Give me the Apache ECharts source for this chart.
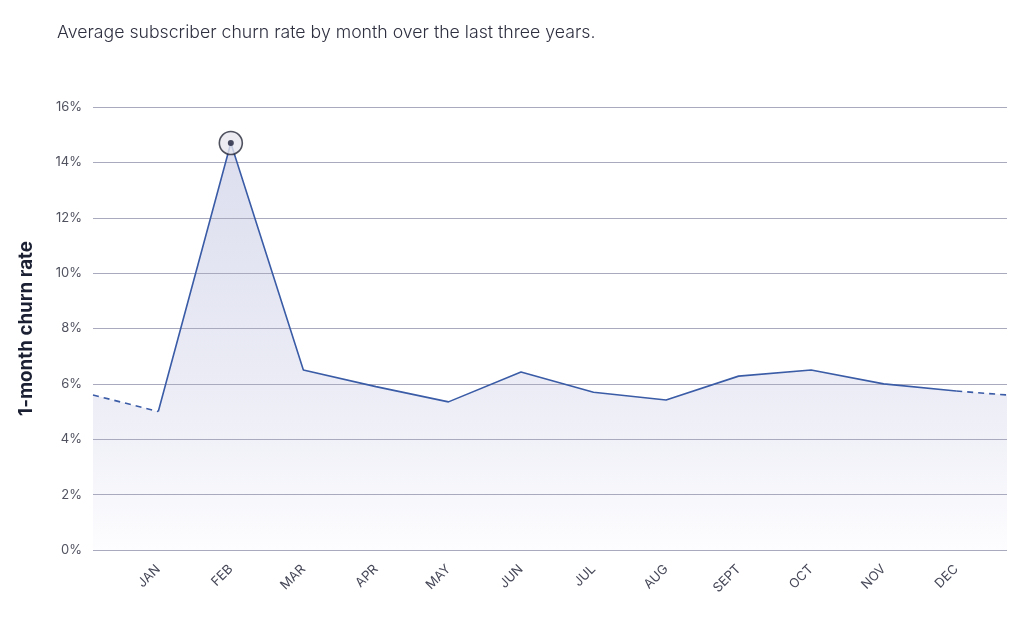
<!DOCTYPE html>
<html>
<head>
<meta charset="utf-8">
<script src="https://cdn.jsdelivr.net/npm/echarts@6/dist/echarts.min.js"></script>
<style>
  html, body { margin: 0; padding: 0; background: #fff; }
  #chart { width: 1024px; height: 620px; }
</style>
</head>
<body>
<div id="chart"></div>
<script>
var months = ['JAN', 'FEB', 'MAR', 'APR', 'MAY', 'JUN', 'JUL', 'AUG', 'SEPT', 'OCT', 'NOV', 'DEC'];
var churn = [5.0, 14.7, 6.5, 5.9, 5.35, 6.43, 5.7, 5.42, 6.28, 6.5, 6.0, 5.74];
// wrap-around values at the chart edges (dashed)
var edgeX = [-0.9, 11.7];
var edgeVal = [5.6, 5.6];
var yTicks = [0, 2, 4, 6, 8, 10, 12, 14, 16];

var font = 'Inter, "Noto Sans", sans-serif';

var solid = months.map(function (m, i) { return [i, churn[i]]; });
var leftDash = [[edgeX[0], edgeVal[0]], [0, churn[0]]];
var rightDash = [[11, churn[11]], [edgeX[1], edgeVal[1]]];
var areaData = [leftDash[0]].concat(solid, [rightDash[1]]);
var peak = 1;

var chart = echarts.init(document.getElementById('chart'));

chart.setOption({
    backgroundColor: '#fff',
    animation: false,
    title: {
        text: 'Average subscriber churn rate by month over the last three years.',
        left: 57,
        top: 24,
        padding: 0,
        textStyle: {
            fontFamily: font,
            fontSize: 17.7,
            fontWeight: 300,
            color: '#2e3040'
        }
    },
    grid: {
        left: 93,
        right: 17,
        top: 107,
        bottom: 70
    },
    xAxis: {
        type: 'value',
        min: edgeX[0],
        max: edgeX[1],
        axisLine: { show: false },
        axisTick: { show: false },
        splitLine: { show: false },
        axisLabel: {
            customValues: months.map(function (m, i) { return i; }),
            formatter: function (v) { return months[Math.round(v)] || ''; },
            rotate: 45,
            margin: 17,
            fontFamily: font,
            fontSize: 13,
            color: '#464858'
        }
    },
    yAxis: {
        type: 'value',
        min: yTicks[0],
        max: yTicks[yTicks.length - 1],
        interval: 2,
        z: 2,
        name: '1-month churn rate',
        nameLocation: 'middle',
        nameGap: 57,
        nameTextStyle: {
            fontFamily: font,
            fontSize: 18.8,
            fontWeight: 'bold',
            color: '#1c2033'
        },
        axisLine: { show: false },
        axisTick: { show: false },
        axisLabel: {
            formatter: '{value}%',
            margin: 11,
            fontFamily: font,
            fontSize: 13,
            color: '#50525f'
        },
        splitLine: {
            lineStyle: { color: '#a9aabd', width: 1 }
        }
    },
    series: [
        {
            name: 'Area',
            type: 'line',
            data: areaData,
            showSymbol: false,
            lineStyle: { width: 0 },
            areaStyle: {
                opacity: 1,
                color: new echarts.graphic.LinearGradient(0, 0, 0, 1, [
                    { offset: 0, color: '#dcdeef' },
                    { offset: 0.6, color: '#ebecf5' },
                    { offset: 1, color: '#fdfdff' }
                ])
            },
            z: 1
        },
        {
            name: 'Churn',
            type: 'line',
            data: solid,
            showSymbol: false,
            lineStyle: { color: '#3a5ba6', width: 1.6 },
            z: 3
        },
        {
            name: 'Before',
            type: 'line',
            data: leftDash,
            showSymbol: false,
            lineStyle: { color: '#3a5ba6', width: 1.6, type: [6, 5] },
            z: 3
        },
        {
            name: 'After',
            type: 'line',
            data: rightDash,
            showSymbol: false,
            lineStyle: { color: '#3a5ba6', width: 1.6, type: [6, 5] },
            z: 3
        },
        {
            name: 'Peak ring',
            type: 'scatter',
            data: [[peak, churn[peak]]],
            symbolSize: 23,
            itemStyle: { color: '#e6e6ee', borderColor: '#262838', borderWidth: 1.6 },
            z: 4
        },
        {
            name: 'Peak dot',
            type: 'scatter',
            data: [[peak, churn[peak]]],
            symbolSize: 6,
            itemStyle: { color: '#1c1f38' },
            z: 5
        }
    ]
});
</script>
</body>
</html>
